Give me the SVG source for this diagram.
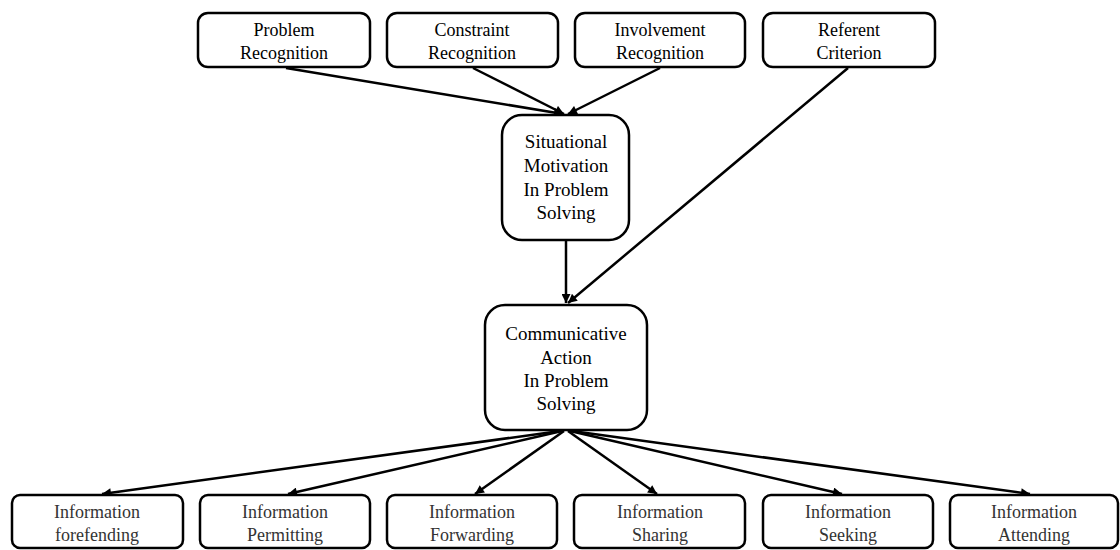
<svg xmlns="http://www.w3.org/2000/svg" width="1120" height="550" viewBox="0 0 1120 550">
<style>
.box{fill:#fff;stroke:#000;stroke-width:2.5}
.t{font-family:"Liberation Serif","Times New Roman",serif;font-size:18px;fill:#000;text-anchor:middle}
.tm{font-family:"Liberation Serif","Times New Roman",serif;font-size:19px;fill:#000;text-anchor:middle}
.tb{font-family:"Liberation Serif","Times New Roman",serif;font-size:18px;fill:#333;text-anchor:middle}
.c{fill:none;stroke:#000;stroke-width:2.5}
</style>
<defs>
<marker id="a" viewBox="0 0 10 10" refX="10" refY="5" markerWidth="10" markerHeight="9" markerUnits="userSpaceOnUse" orient="auto">
<path d="M0,0 L10,5 L0,10 z" fill="#000"/>
</marker>
</defs>
<rect width="1120" height="550" fill="#fff"/>
<g id="connectors">
<line class="c" x1="286" y1="68" x2="563" y2="114" marker-end="url(#a)"/>
<line class="c" x1="473" y1="68" x2="564" y2="114" marker-end="url(#a)"/>
<line class="c" x1="660" y1="68" x2="568" y2="114" marker-end="url(#a)"/>
<line class="c" x1="848" y1="68" x2="568" y2="303" marker-end="url(#a)"/>
<line class="c" x1="566" y1="241" x2="566" y2="303" marker-end="url(#a)"/>
<line class="c" x1="560" y1="431" x2="102" y2="494" marker-end="url(#a)"/>
<line class="c" x1="562" y1="431" x2="288" y2="494" marker-end="url(#a)"/>
<line class="c" x1="564" y1="431" x2="475" y2="494" marker-end="url(#a)"/>
<line class="c" x1="568" y1="431" x2="657" y2="494" marker-end="url(#a)"/>
<line class="c" x1="570" y1="431" x2="842" y2="494" marker-end="url(#a)"/>
<line class="c" x1="572" y1="431" x2="1030" y2="494" marker-end="url(#a)"/>
</g>
<g id="problem-recognition">
<rect class="box" x="198" y="13" width="172" height="54" rx="10"/>
<text class="t" x="284" y="36">Problem</text>
<text class="t" x="284" y="59">Recognition</text>
</g>
<g id="constraint-recognition">
<rect class="box" x="387" y="13" width="171" height="54" rx="10"/>
<text class="t" x="472" y="36">Constraint</text>
<text class="t" x="472" y="59">Recognition</text>
</g>
<g id="involvement-recognition">
<rect class="box" x="575" y="13" width="170" height="54" rx="10"/>
<text class="t" x="660" y="36">Involvement</text>
<text class="t" x="660" y="59">Recognition</text>
</g>
<g id="referent-criterion">
<rect class="box" x="763" y="13" width="172" height="54" rx="10"/>
<text class="t" x="849" y="36">Referent</text>
<text class="t" x="849" y="59">Criterion</text>
</g>
<g id="situational-motivation">
<rect class="box" x="502" y="115" width="127" height="125" rx="20"/>
<text class="tm" x="566" y="148">Situational</text>
<text class="tm" x="566" y="172">Motivation</text>
<text class="tm" x="566" y="196">In Problem</text>
<text class="tm" x="566" y="219">Solving</text>
</g>
<g id="communicative-action">
<rect class="box" x="485" y="305" width="162" height="125" rx="20"/>
<text class="tm" x="566" y="340">Communicative</text>
<text class="tm" x="566" y="364">Action</text>
<text class="tm" x="566" y="387">In Problem</text>
<text class="tm" x="566" y="410">Solving</text>
</g>
<g id="information-forefending">
<rect class="box" x="12" y="495" width="171" height="53" rx="8"/>
<text class="tb" x="97" y="518">Information</text>
<text class="tb" x="97" y="541">forefending</text>
</g>
<g id="information-permitting">
<rect class="box" x="200" y="495" width="170" height="53" rx="8"/>
<text class="tb" x="285" y="518">Information</text>
<text class="tb" x="285" y="541">Permitting</text>
</g>
<g id="information-forwarding">
<rect class="box" x="387" y="495" width="170" height="53" rx="8"/>
<text class="tb" x="472" y="518">Information</text>
<text class="tb" x="472" y="541">Forwarding</text>
</g>
<g id="information-sharing">
<rect class="box" x="574" y="495" width="171" height="53" rx="8"/>
<text class="tb" x="660" y="518">Information</text>
<text class="tb" x="660" y="541">Sharing</text>
</g>
<g id="information-seeking">
<rect class="box" x="763" y="495" width="170" height="53" rx="8"/>
<text class="tb" x="848" y="518">Information</text>
<text class="tb" x="848" y="541">Seeking</text>
</g>
<g id="information-attending">
<rect class="box" x="950" y="495" width="168" height="53" rx="8"/>
<text class="tb" x="1034" y="518">Information</text>
<text class="tb" x="1034" y="541">Attending</text>
</g>
</svg>
